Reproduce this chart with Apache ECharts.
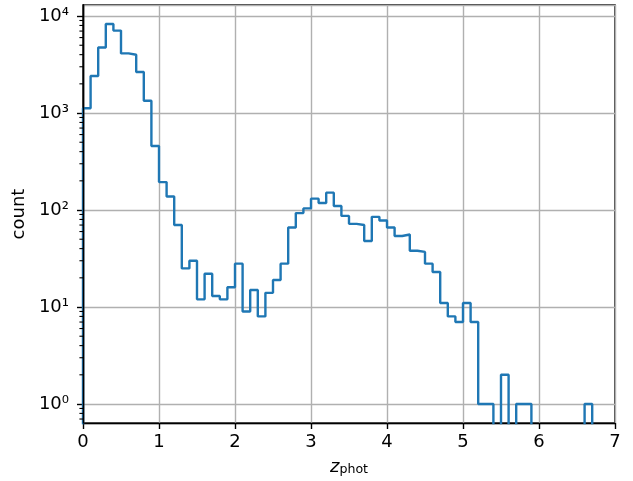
<!DOCTYPE html>
<html><head><meta charset="utf-8">
<script src="https://cdn.jsdelivr.net/npm/echarts@6/dist/echarts.min.js"></script>
<style>html,body{margin:0;padding:0;background:#fff}#c{width:633px;height:481px}</style>
</head><body><div id="c"></div>
<script>
// histogram of z_phot, bins of width 0.1 starting at 0
const binStart = 0;
const binWidth = 0.1;
const counts = [
  1120, 2410, 4740, 8280, 7080, 4120, 3990, 2650, 1340, 457,
  194, 138, 70, 25, 30, 12, 22, 13, 12, 16,
  28, 9, 15, 8, 14, 19, 28, 66, 93, 104,
  131, 118, 151, 110, 87, 72, 70, 48, 85, 78,
  66, 54, 56, 38, 37, 28, 23, 11, 8, 7,
  11, 7, 1, 1, 0, 2, 0, 1, 1, 0,
  0, 0, 0, 0, 0, 0, 1
];
const xTicks = [0, 1, 2, 3, 4, 5, 6, 7];
const yMajorExponents = [0, 1, 2, 3, 4];
const yMinorMultipliers = [2, 3, 4, 5, 6, 7, 8, 9];
const xRange = [0, 7];
const yRange = [0.637, 13000];

const FLOOR = 1e-4; // zero counts drawn below the log axis (clipped)
const sup = {'0':'\u2070','1':'\u00b9','2':'\u00b2','3':'\u00b3','4':'\u2074','-':'\u207b'};

const pts = [[binStart, FLOOR]];
counts.forEach((c, i) => {
  pts.push([+(binStart + i * binWidth).toFixed(6), c > 0 ? c : FLOOR]);
});
pts.push([+(binStart + counts.length * binWidth).toFixed(6), FLOOR]);

const minorVals = [];
for (let e = -1; e <= 4; e++) {
  yMinorMultipliers.forEach(m => {
    const v = m * Math.pow(10, e);
    if (v > yRange[0] && v < yRange[1]) minorVals.push(v);
  });
}

const font = 'DejaVu Sans';
const spine = {show: true, onZero: false, lineStyle: {color: '#000', width: 1.4}};
const chart = echarts.init(document.getElementById('c'), null, {renderer: 'canvas'});
chart.setOption({
  animation: false,
  backgroundColor: '#fff',
  textStyle: {fontFamily: font},
  grid: {left: 83, right: 18, top: 5, bottom: 55, show: true, borderColor: '#000', borderWidth: 1.4, backgroundColor: 'transparent'},
  xAxis: [{
    type: 'value', min: xRange[0], max: xRange[1], interval: 1,
    axisLine: spine,
    axisTick: {show: true, inside: false, length: 6, lineStyle: {color: '#000', width: 1.4}},
    axisLabel: {color: '#000', fontSize: 18, fontFamily: font, margin: 10,
      formatter: v => xTicks.indexOf(v) >= 0 ? String(v) : ''},
    splitLine: {show: true, lineStyle: {color: '#b0b0b0', width: 1.4}},
    name: '{i|z}{s|phot}', nameLocation: 'middle', nameGap: 31,
    nameTextStyle: {
      rich: {
        i: {fontSize: 18, fontStyle: 'italic', fontFamily: font, color: '#000', verticalAlign: 'bottom', lineHeight: 22},
        s: {fontSize: 12.6, fontFamily: font, color: '#000', verticalAlign: 'bottom', lineHeight: 12}
      }
    }
  }],
  yAxis: [{
    type: 'log', logBase: 10, min: yRange[0], max: yRange[1],
    axisLine: spine,
    axisTick: {show: true, inside: false, length: 6, lineStyle: {color: '#000', width: 1.4}},
    axisLabel: {color: '#000', fontSize: 18, fontFamily: font, margin: 14,
      showMinLabel: false, showMaxLabel: false,
      formatter: v => {
        const e = Math.round(Math.log10(v));
        if (Math.abs(Math.log10(v) - e) > 1e-6 || yMajorExponents.indexOf(e) < 0) return '';
        return '10' + String(e).split('').map(ch => sup[ch]).join('');
      }},
    splitLine: {show: true, lineStyle: {color: '#b0b0b0', width: 1.4}},
    name: 'count', nameLocation: 'middle', nameGap: 51, nameRotate: 90,
    nameTextStyle: {fontSize: 18, color: '#000', fontFamily: font}
  }, {
    // left spine drawn above the histogram line (as in the original)
    type: 'log', logBase: 10, min: yRange[0], max: yRange[1], position: 'left', z: 10,
    axisLine: spine, axisTick: {show: false}, axisLabel: {show: false}, splitLine: {show: false}
  }],
  series: [
    {
      type: 'line', data: pts, step: 'end', showSymbol: false, symbol: 'none',
      clip: true, lineStyle: {color: '#1f77b4', width: 2.4}, z: 3
    },
    {
      type: 'custom', clip: false, silent: true, z: 4,
      data: minorVals.map(v => [xRange[0], v]),
      renderItem: (params, api) => {
        const p = api.coord([api.value(0), api.value(1)]);
        return {type: 'line', shape: {x1: p[0] - 3.6, y1: p[1], x2: p[0], y2: p[1]},
          style: {stroke: '#000', lineWidth: 1.1}};
      }
    }
  ]
});
</script></body></html>
